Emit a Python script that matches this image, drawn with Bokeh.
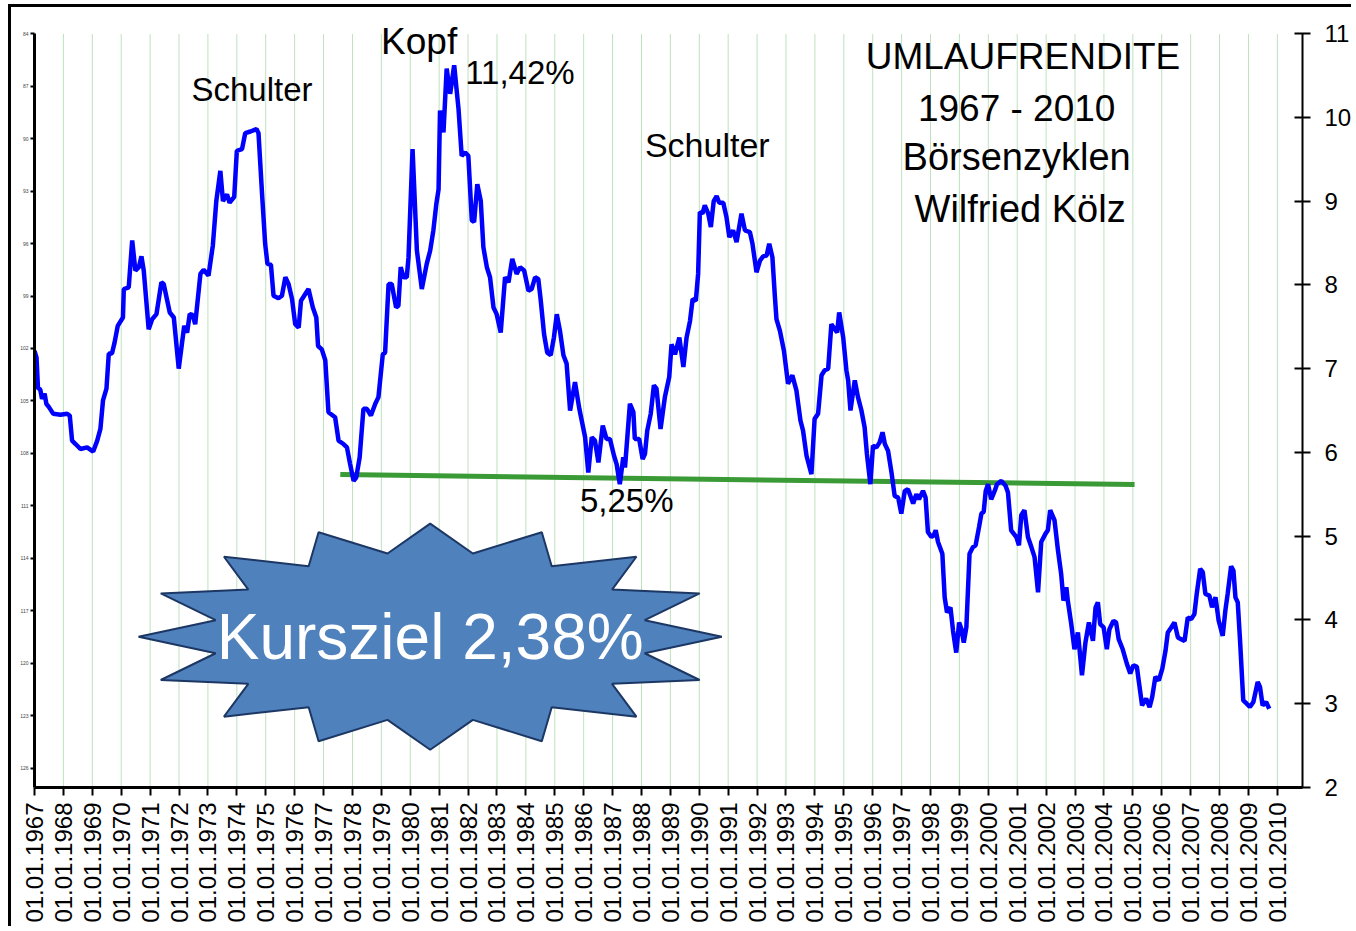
import math
from bokeh.plotting import figure
from bokeh.models import (Range1d, LinearAxis, FixedTicker, Label, ColumnDataSource)
from bokeh.embed import file_html
from bokeh.resources import INLINE

# ---------------- data ----------------
years = [
    1967.00, 1967.07, 1967.12, 1967.20, 1967.26, 1967.35, 1967.41, 1967.50, 1967.65, 1967.90,
    1968.13, 1968.22, 1968.30, 1968.42, 1968.59, 1968.82, 1969.03, 1969.17, 1969.28, 1969.37,
    1969.49, 1969.57, 1969.68, 1969.77, 1969.88, 1970.06, 1970.09, 1970.26, 1970.38, 1970.49,
    1970.61, 1970.70, 1970.78, 1970.95, 1971.07, 1971.22, 1971.39, 1971.47, 1971.68, 1971.82,
    1971.99, 1972.18, 1972.28, 1972.37, 1972.47, 1972.56, 1972.74, 1972.85, 1973.02, 1973.17,
    1973.29, 1973.43, 1973.52, 1973.66, 1973.75, 1973.91, 1974.00, 1974.18, 1974.29, 1974.47,
    1974.68, 1974.75, 1974.87, 1974.98, 1975.06, 1975.18, 1975.27, 1975.44, 1975.56, 1975.68,
    1975.79, 1975.91, 1976.02, 1976.14, 1976.22, 1976.48, 1976.63, 1976.75, 1976.81, 1976.94,
    1977.06, 1977.17, 1977.40, 1977.52, 1977.69, 1977.81, 1977.92, 1978.04, 1978.13, 1978.25,
    1978.38, 1978.50, 1978.64, 1978.79, 1978.90, 1979.05, 1979.13, 1979.25, 1979.36, 1979.51,
    1979.59, 1979.67, 1979.77, 1979.88, 1979.94, 1980.08, 1980.23, 1980.40, 1980.57, 1980.69,
    1980.80, 1980.90, 1980.98, 1981.03, 1981.15, 1981.26, 1981.38, 1981.52, 1981.67, 1981.78,
    1981.90, 1982.01, 1982.13, 1982.21, 1982.32, 1982.44, 1982.53, 1982.65, 1982.76, 1982.88,
    1982.99, 1983.13, 1983.28, 1983.40, 1983.53, 1983.68, 1983.80, 1983.94, 1984.09, 1984.20,
    1984.32, 1984.43, 1984.51, 1984.63, 1984.74, 1984.86, 1984.97, 1985.07, 1985.18, 1985.30,
    1985.41, 1985.53, 1985.70, 1985.85, 1986.05, 1986.16, 1986.28, 1986.39, 1986.51, 1986.66,
    1986.79, 1986.91, 1987.05, 1987.14, 1987.25, 1987.37, 1987.43, 1987.60, 1987.72, 1987.77,
    1987.92, 1988.04, 1988.12, 1988.20, 1988.32, 1988.43, 1988.52, 1988.66, 1988.81, 1988.96,
    1989.04, 1989.16, 1989.31, 1989.45, 1989.56, 1989.68, 1989.77, 1989.88, 1989.96, 1990.02,
    1990.11, 1990.19, 1990.31, 1990.40, 1990.50, 1990.60, 1990.69, 1990.83, 1990.94, 1991.04,
    1991.17, 1991.29, 1991.38, 1991.46, 1991.58, 1991.75, 1991.84, 1991.98, 1992.10, 1992.21,
    1992.33, 1992.42, 1992.53, 1992.61, 1992.67, 1992.79, 1992.93, 1993.07, 1993.22, 1993.36,
    1993.50, 1993.59, 1993.71, 1993.88, 1993.99, 1994.11, 1994.23, 1994.34, 1994.46, 1994.57,
    1994.69, 1994.77, 1994.84, 1994.98, 1995.09, 1995.15, 1995.23, 1995.38, 1995.49, 1995.61,
    1995.72, 1995.80, 1995.92, 1996.01, 1996.13, 1996.24, 1996.34, 1996.42, 1996.53, 1996.65,
    1996.76, 1996.88, 1996.99, 1997.11, 1997.22, 1997.40, 1997.51, 1997.60, 1997.74, 1997.83,
    1997.91, 1998.03, 1998.11, 1998.18, 1998.26, 1998.41, 1998.49, 1998.57, 1998.69, 1998.78,
    1998.89, 1998.99, 1999.07, 1999.15, 1999.24, 1999.35, 1999.47, 1999.56, 1999.68, 1999.76,
    1999.84, 1999.91, 1999.99, 2000.10, 2000.22, 2000.30, 2000.45, 2000.60, 2000.68, 2000.79,
    2000.97, 2001.06, 2001.14, 2001.25, 2001.37, 2001.49, 2001.60, 2001.72, 2001.83, 2001.98,
    2002.06, 2002.14, 2002.29, 2002.41, 2002.52, 2002.60, 2002.70, 2002.75, 2002.87, 2002.98,
    2003.10, 2003.24, 2003.36, 2003.48, 2003.62, 2003.71, 2003.79, 2003.87, 2003.99, 2004.10,
    2004.19, 2004.33, 2004.42, 2004.51, 2004.65, 2004.79, 2004.91, 2005.02, 2005.14, 2005.21,
    2005.32, 2005.46, 2005.58, 2005.67, 2005.78, 2005.90, 2006.02, 2006.13, 2006.21, 2006.33,
    2006.44, 2006.56, 2006.67, 2006.79, 2006.90, 2007.02, 2007.13, 2007.21, 2007.33, 2007.42,
    2007.51, 2007.65, 2007.74, 2007.86, 2007.97, 2008.11, 2008.20, 2008.28, 2008.40, 2008.48,
    2008.55, 2008.63, 2008.71, 2008.82, 2008.94, 2009.05, 2009.17, 2009.32, 2009.40, 2009.49,
    2009.61, 2009.72,
]
rendite = [
    7.21, 7.13, 6.77, 6.75, 6.64, 6.70, 6.58, 6.54, 6.46, 6.45,
    6.46, 6.44, 6.14, 6.10, 6.04, 6.06, 6.01, 6.14, 6.28, 6.62,
    6.76, 7.18, 7.18, 7.31, 7.51, 7.61, 7.95, 7.97, 8.53, 8.17,
    8.21, 8.34, 8.17, 7.47, 7.59, 7.65, 8.03, 8.01, 7.67, 7.61,
    7.00, 7.51, 7.43, 7.65, 7.64, 7.53, 8.13, 8.18, 8.11, 8.47,
    9.00, 9.36, 9.00, 9.08, 8.98, 9.05, 9.60, 9.62, 9.81, 9.83,
    9.86, 9.81, 9.10, 8.49, 8.25, 8.24, 7.87, 7.84, 7.87, 8.09,
    8.01, 7.83, 7.53, 7.49, 7.81, 7.95, 7.73, 7.61, 7.27, 7.23,
    7.10, 6.48, 6.42, 6.14, 6.10, 6.06, 5.86, 5.66, 5.70, 5.94,
    6.52, 6.52, 6.44, 6.58, 6.66, 7.17, 7.19, 8.01, 8.01, 7.73,
    7.75, 8.21, 8.09, 8.09, 8.33, 9.62, 8.41, 7.95, 8.25, 8.41,
    8.65, 8.96, 9.14, 10.08, 9.82, 10.58, 10.28, 10.62, 10.10, 9.54,
    9.58, 9.54, 8.77, 8.75, 9.20, 9.00, 8.45, 8.21, 8.09, 7.73,
    7.65, 7.43, 8.09, 8.03, 8.31, 8.13, 8.21, 8.17, 7.93, 7.95,
    8.09, 8.07, 7.83, 7.41, 7.19, 7.16, 7.37, 7.65, 7.45, 7.16,
    7.06, 6.50, 6.84, 6.52, 6.18, 5.76, 6.18, 6.14, 5.88, 6.32,
    6.16, 6.16, 5.96, 5.86, 5.62, 5.94, 5.82, 6.58, 6.48, 6.16,
    6.16, 5.92, 5.98, 6.26, 6.46, 6.80, 6.76, 6.28, 6.66, 6.90,
    7.29, 7.17, 7.37, 7.02, 7.37, 7.57, 7.83, 7.81, 8.13, 8.87,
    8.85, 8.95, 8.85, 8.69, 9.00, 9.06, 8.98, 8.98, 8.81, 8.57,
    8.65, 8.51, 8.69, 8.85, 8.65, 8.63, 8.49, 8.15, 8.29, 8.34,
    8.35, 8.49, 8.33, 7.89, 7.59, 7.45, 7.21, 6.82, 6.92, 6.74,
    6.38, 6.26, 5.96, 5.74, 6.40, 6.46, 6.92, 6.98, 7.00, 7.53,
    7.47, 7.43, 7.67, 7.37, 6.98, 6.86, 6.50, 6.86, 6.66, 6.50,
    6.30, 5.98, 5.62, 6.08, 6.06, 6.12, 6.24, 6.10, 6.02, 5.76,
    5.48, 5.46, 5.27, 5.54, 5.56, 5.39, 5.50, 5.44, 5.54, 5.46,
    5.05, 4.99, 5.01, 5.07, 4.93, 4.79, 4.27, 4.09, 4.15, 3.87,
    3.61, 3.97, 3.89, 3.73, 3.91, 4.79, 4.87, 4.89, 5.11, 5.27,
    5.29, 5.54, 5.62, 5.44, 5.54, 5.62, 5.66, 5.60, 5.52, 5.07,
    4.99, 4.89, 5.25, 5.31, 4.99, 4.87, 4.75, 4.33, 4.93, 5.03,
    5.07, 5.31, 5.19, 4.83, 4.55, 4.23, 4.39, 4.23, 3.95, 3.65,
    3.85, 3.34, 3.73, 3.97, 3.75, 4.15, 4.21, 3.95, 3.91, 3.65,
    3.89, 3.99, 3.97, 3.77, 3.65, 3.48, 3.36, 3.46, 3.44, 3.26,
    2.98, 3.06, 2.96, 3.08, 3.32, 3.28, 3.42, 3.63, 3.85, 3.91,
    3.97, 3.79, 3.77, 3.75, 4.03, 4.01, 4.07, 4.31, 4.61, 4.57,
    4.31, 4.29, 4.15, 4.27, 3.99, 3.81, 4.11, 4.31, 4.64, 4.59,
    4.27, 4.21, 3.75, 3.04, 3.00, 2.96, 3.02, 3.26, 3.20, 2.98,
    3.02, 2.94,
]

tick_years = list(range(1967, 2011))
tick_labels = {y: "01.01.%d" % y for y in tick_years}
right_ticks = list(range(2, 12))
left_ticks = list(range(84, 127, 3))

# support line (Nackenlinie)
neck_x = [1977.58, 2005.06]
neck_y = [5.735, 5.616]

# star ("Kursziel") centre and radii in data units
star_cx, star_cy = 1980.69, 3.80
star_rx, star_ry = 10.09, 1.35
star_points = 16
star_inner = 0.75

annotations = [
    # text, x (year), y (value), size, align
    ("Schulter", 1972.43, 10.33, "33px", "left"),
    ("Kopf", 1978.99, 10.91, "37px", "left"),
    ("11,42%", 1981.90, 10.54, "33px", "left"),
    ("Schulter", 1988.12, 9.67, "34px", "left"),
    ("5,25%", 1985.87, 5.42, "33px", "left"),
    ("UMLAUFRENDITE", 2001.20, 10.72, "37px", "center"),
    ("1967 - 2010", 2000.98, 10.11, "37px", "center"),
    ("Börsenzyklen", 2000.98, 9.52, "38px", "center"),
    ("Wilfried Kölz", 2001.10, 8.91, "38px", "center"),
]
star_text = "Kursziel 2,38%"

FONT = "Liberation Sans"
Y_LO, Y_HI = 2, 11
Y_TOP = 11.2625          # range end leaves room above the 11 tick for "Kopf"
P_LO, P_HI, P_TOP = 127.09, 84, 82.74

# ---------------- figure ----------------
p = figure(width=1343, height=922, output_backend="svg", toolbar_location=None,
           x_range=Range1d(1967, 2010.87), y_range=Range1d(Y_LO, Y_TOP),
           y_axis_location="right",
           min_border_left=23, min_border_top=4, min_border_right=51, min_border_bottom=142)
p.styles = {"border-left": "3px solid black", "border-top": "3px solid black",
            "margin-left": "8px", "margin-top": "4px"}
p.outline_line_color = None
p.background_fill_color = "white"
p.border_fill_color = "white"

p.extra_y_ranges = {"price": Range1d(start=P_LO, end=P_TOP)}

# bottom axis
xa = p.xaxis[0]
xa.ticker = FixedTicker(ticks=tick_years)
xa.major_label_overrides = tick_labels
xa.major_label_orientation = math.pi / 2
xa.major_label_text_font = FONT
xa.major_label_text_font_size = "24px"
xa.major_label_text_color = "black"
xa.major_label_standoff = 7
xa.axis_line_width = 3
xa.axis_line_color = "black"
xa.major_tick_line_width = 2
xa.major_tick_out = 8
xa.major_tick_in = 0
xa.minor_tick_line_color = None

# right axis (main y)
ya = p.yaxis[0]
ya.ticker = FixedTicker(ticks=right_ticks)
ya.bounds = (Y_LO, Y_HI)
ya.major_label_text_font = FONT
ya.major_label_text_font_size = "24px"
ya.major_label_text_color = "black"
ya.major_label_standoff = 14
ya.axis_line_width = 2
ya.major_tick_line_width = 2
ya.major_tick_in = 8
ya.major_tick_out = 8
ya.minor_tick_line_color = None

# left axis (tiny)
la = LinearAxis(y_range_name="price", ticker=FixedTicker(ticks=left_ticks),
                bounds=(P_HI, P_LO))
la.major_label_text_font = FONT
la.major_label_text_font_size = "5px"
la.major_label_text_color = "#444444"
la.major_label_standoff = 2
la.axis_line_width = 3
la.major_tick_line_width = 2
la.major_tick_out = 4
la.major_tick_in = 0
la.minor_tick_line_color = None
p.add_layout(la, "left")

# grid: drawn as dotted segments limited to the axis span
p.xgrid.grid_line_color = None
p.ygrid.grid_line_color = None
grid_x = tick_years[1:]
p.segment(x0=grid_x, y0=[Y_LO] * len(grid_x), x1=grid_x, y1=[Y_HI] * len(grid_x),
          line_color="#7cc47c", line_dash="1 1", line_width=1)

# star polygon
sx, sy = [], []
for k in range(2 * star_points):
    ang = math.pi / 2 - k * math.pi / star_points
    r = 1.0 if k % 2 == 0 else star_inner
    sx.append(star_cx + star_rx * r * math.cos(ang))
    sy.append(star_cy + star_ry * r * math.sin(ang))
p.patch(sx, sy, fill_color="#4f81bd", line_color="#1c3764", line_width=2)

# support line
p.line(neck_x, neck_y, line_color="#3a9a35", line_width=5)

# yield line
src = ColumnDataSource(dict(x=years, y=rendite))
p.line("x", "y", source=src, line_color="#0000ff", line_width=4.5)

# texts
for txt, tx, ty, fs, al in annotations:
    p.add_layout(Label(x=tx, y=ty, text=txt, text_font=FONT, text_font_size=fs,
                       text_align=al, text_baseline="middle", text_color="black"))
p.add_layout(Label(x=star_cx, y=star_cy, text=star_text, text_font=FONT,
                   text_font_size="64px", text_align="center", text_baseline="middle",
                   text_color="white"))

open("out.html", "w").write(file_html(p, INLINE))
